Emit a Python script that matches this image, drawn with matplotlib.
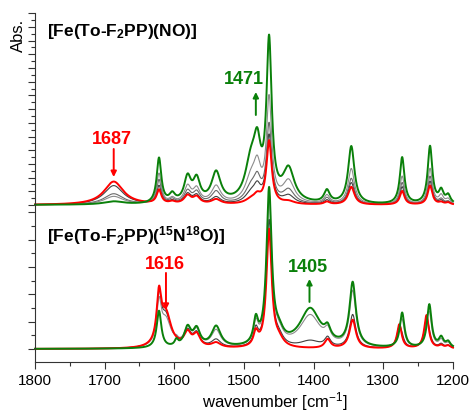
import numpy as np
import matplotlib.pyplot as plt
from matplotlib.ticker import MultipleLocator

plt.rcParams['font.family'] = ['Liberation Sans', 'DejaVu Sans']
plt.rcParams['mathtext.default'] = 'regular'

RED = '#ff0000'
GREEN = '#0a800a'
GRAYS = ['#8c8c8c', '#6a6a6a', '#404040']

# band positions (cm-1) and half widths for the NO complex
no_centers = [1687, 1622, 1603, 1581, 1568, 1540, 1490, 1481, 1464, 1436, 1381, 1346, 1273, 1233, 1217, 1207]
no_widths = [17, 4, 5, 6, 6, 8, 10, 6, 4.5, 10, 5, 5.5, 4, 4, 4, 4]
no_red = [1.7, 1.0, 0.15, 0.6, 0.5, 0.35, 0.3, 0.5, 4.6, 0.2, 0.2, 1.3, 1.0, 1.4, 0.15, 0.15]
no_gray3 = [1.4, 1.3, 0.2, 0.7, 0.6, 0.5, 0.7, 1.0, 4.9, 0.6, 0.3, 1.6, 1.3, 1.7, 0.25, 0.2]
no_gray2 = [0.8, 1.75, 0.3, 0.9, 0.8, 0.9, 1.1, 1.4, 5.6, 1.0, 0.45, 1.9, 1.6, 2.05, 0.35, 0.2]
no_gray1 = [0.6, 2.2, 0.35, 1.2, 1.0, 1.25, 1.7, 2.1, 7.4, 1.6, 0.6, 2.6, 2.05, 2.6, 0.6, 0.35]
no_green = [0.22, 3.3, 0.6, 1.8, 1.6, 2.2, 2.8, 3.2, 11.4, 2.4, 0.9, 4.2, 3.4, 4.2, 0.9, 0.6]

# band positions and half widths for the 15N18O complex
iso_centers = [1622, 1612, 1597, 1581, 1568, 1540, 1483, 1464, 1450, 1405, 1380, 1344, 1277, 1273, 1238, 1234, 1217, 1207]
iso_widths = [4, 9, 3, 6, 6, 8, 4, 4.5, 8, 18, 5, 5.5, 4, 4, 4, 4, 4, 4]
iso_red = [1.75, 1.2, 0, 0.5, 0.45, 0.18, 0.5, 4.3, 0.25, 0, 0.33, 1.05, 0.88, 0, 1.22, 0, 0.1, 0.1]
iso_grayB = [1.65, 1.1, 0.04, 0.55, 0.48, 0.29, 0.58, 4.6, 0.3, 0.26, 0.33, 1.22, 0.76, 0.18, 1.05, 0.18, 0.14, 0.1]
iso_grayA = [1.45, 0.95, 0.11, 0.62, 0.55, 0.62, 0.75, 5.3, 0.36, 1.18, 0.4, 2.03, 0.35, 0.87, 0.42, 1.12, 0.27, 0.17]
iso_green = [1.35, 0, 0.22, 0.7, 0.62, 0.76, 0.86, 5.65, 0.4, 1.42, 0.4, 2.32, 0, 1.27, 0, 1.58, 0.35, 0.21]

wn = np.linspace(1800, 1200, 3001)


def spectrum(centers, widths, heights):
    y = np.zeros_like(wn)
    for c, w, h in zip(centers, widths, heights):
        y += h * w**2 / ((wn - c)**2 + w**2)
    return y


fig = plt.figure(figsize=(4.69, 4.14), dpi=100)
ax_top = fig.add_axes([0.0746, 0.5024, 0.8913, 0.4633])
ax_bot = fig.add_axes([0.0746, 0.1225, 0.8913, 0.38])

for ax in (ax_top, ax_bot):
    ax.patch.set_visible(False)
    ax.set_xlim(1800, 1200)
    ax.spines['top'].set_visible(False)
    ax.spines['right'].set_visible(False)
    ax.tick_params(which='both', direction='out', labelleft=False, width=0.8, color='#333333')
    ax.tick_params(which='major', length=5)
    ax.tick_params(which='minor', length=3)
    ax.yaxis.set_major_locator(MultipleLocator(1))
    ax.yaxis.set_minor_locator(MultipleLocator(0.5))
    ax.spines['left'].set_color('#333333')

ax_top.spines['bottom'].set_visible(False)
ax_top.tick_params(axis='x', which='both', bottom=False, labelbottom=False)
ax_top.set_ylim(0, 14)
ax_bot.set_ylim(-0.486, 5.265)
ax_bot.spines['bottom'].set_color('#333333')
ax_bot.xaxis.set_major_locator(MultipleLocator(100))
ax_bot.xaxis.set_minor_locator(MultipleLocator(50))
ax_bot.tick_params(axis='x', labelsize=11, pad=3)

for h, col in zip([no_gray3, no_gray2, no_gray1], GRAYS[::-1]):
    ax_top.plot(wn, spectrum(no_centers, no_widths, h), color=col, lw=0.8, clip_on=False)
ax_top.plot(wn, spectrum(no_centers, no_widths, no_red), color=RED, lw=1.4, clip_on=False)
ax_top.plot(wn, spectrum(no_centers, no_widths, no_green), color=GREEN, lw=1.4, clip_on=False)

for h, col in zip([iso_grayB, iso_grayA], [GRAYS[2], GRAYS[0]]):
    ax_bot.plot(wn, spectrum(iso_centers, iso_widths, h), color=col, lw=0.8, clip_on=False)
ax_bot.plot(wn, spectrum(iso_centers, iso_widths, iso_red), color=RED, lw=1.4, clip_on=False)
ax_bot.plot(wn, spectrum(iso_centers, iso_widths, iso_green), color=GREEN, lw=1.4, clip_on=False)

ax_top.text(1783, 12.77, '[Fe(To-F$_2$PP)(NO)]', fontsize=12.5, fontweight='bold', ha='left', va='center')
ax_bot.text(1783, 4.2, '[Fe(To-F$_2$PP)($^{15}$N$^{18}$O)]', fontsize=12.5, fontweight='bold', ha='left', va='center')

arrow_kw = dict(arrowstyle='-|>', lw=1.4, mutation_scale=8, shrinkA=0, shrinkB=0)

ax_top.text(1689, 4.89, '1687', color=RED, fontsize=13, fontweight='bold', ha='center', va='center')
ax_top.annotate('', xy=(1687, 2.04), xytext=(1687, 4.09), arrowprops=dict(color=RED, **arrow_kw))
ax_top.text(1500, 9.27, '1471', color=GREEN, fontsize=13, fontweight='bold', ha='center', va='center')
ax_top.annotate('', xy=(1483, 8.25), xytext=(1483, 6.57), arrowprops=dict(color=GREEN, **arrow_kw))

ax_bot.text(1614, 3.11, '1616', color=RED, fontsize=13, fontweight='bold', ha='center', va='center')
ax_bot.annotate('', xy=(1612, 1.43), xytext=(1612, 2.78), arrowprops=dict(color=RED, **arrow_kw))
ax_bot.text(1408.6, 3.03, '1405', color=GREEN, fontsize=13, fontweight='bold', ha='center', va='center')
ax_bot.annotate('', xy=(1406, 2.56), xytext=(1406, 1.72), arrowprops=dict(color=GREEN, **arrow_kw))

fig.text(18 / 469, 1 - 35 / 414, 'Abs.', rotation=90, fontsize=12, ha='center', va='center')
fig.text(275 / 469, 1 - 402 / 414, 'wavenumber [cm$^{-1}$]', fontsize=12, ha='center', va='center')

fig.savefig('out.png', dpi=100)
